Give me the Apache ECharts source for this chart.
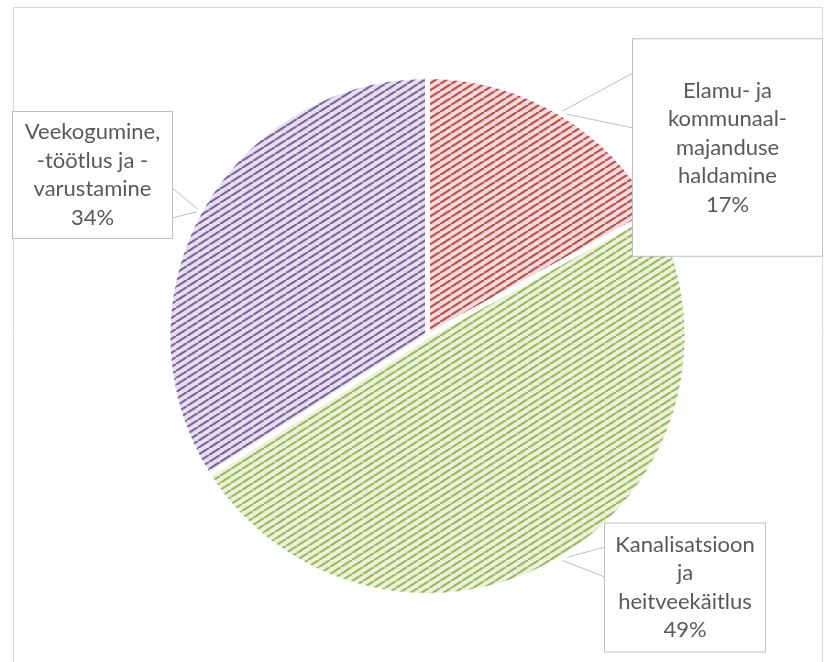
<!DOCTYPE html>
<html>
<head>
<meta charset="utf-8">
<script src="https://cdn.jsdelivr.net/npm/echarts@6/dist/echarts.min.js"></script>
<style>
html,body{margin:0;padding:0;background:#fff;}
#chart{width:824px;height:662px;}
</style>
</head>
<body>
<div id="chart"></div>
<script>
// ---- data ----
const categories = [
  "Elamu- ja\nkommunaal-\nmajanduse\nhaldamine",
  "Kanalisatsioon\nja\nheitveekäitlus",
  "Veekogumine,\n-töötlus ja -\nvarustamine"
];
const shares = [17, 49, 34];

// ---- styles ----
const stripeColors = ["#C0504D", "#9BBB59", "#8064A2"];
const bgColors = ["#F2DCDB", "#EBF1DE", "#E5E0EC"];
// callout boxes: center x, center y, width, vertical padding, notch points on box edge
const boxes = [
  {cx: 727.5, cy: 147.5, w: 189, pv: 37, notch: [[633, 73], [633, 128]]},
  {cx: 685, cy: 587.5, w: 160, pv: 7, notch: [[605, 547], [605, 577]]},
  {cx: 92.5, cy: 175, w: 159, pv: 6, notch: [[172, 188], [172, 218]]}
];

function makePattern(bg, fg) {
  const W = 11, H = 7;
  const c = document.createElement('canvas');
  c.width = W; c.height = H;
  const ctx = c.getContext('2d');
  ctx.fillStyle = bg;
  ctx.fillRect(0, 0, W, H);
  ctx.strokeStyle = fg;
  ctx.lineWidth = 2.2;
  for (let k = -1; k <= 1; k++) {
    ctx.beginPath();
    ctx.moveTo(k * W, H);
    ctx.lineTo(k * W + W, 0);
    ctx.stroke();
  }
  return {image: c, repeat: 'repeat'};
}

const chart = echarts.init(document.getElementById('chart'), null, {renderer: 'canvas'});

const data = categories.map((name, i) => ({
  name: name,
  value: shares[i],
  itemStyle: {color: makePattern(bgColors[i], stripeColors[i])},
  label: {width: boxes[i].w, padding: [boxes[i].pv, 0]}
}));

chart.setOption({
  animation: false,
  backgroundColor: '#ffffff',
  graphic: [{
    type: 'rect',
    shape: {x: 13.5, y: 7.5, width: 809, height: 700},
    style: {fill: 'none', stroke: '#D9D9D9', lineWidth: 1},
    silent: true
  }],
  series: [{
    type: 'pie',
    center: [427.5, 336],
    radius: [0, 259.5],
    startAngle: 90,
    clockwise: true,
    avoidLabelOverlap: false,
    itemStyle: {borderColor: '#ffffff', borderWidth: 5},
    label: {
      show: true,
      formatter: '{b}\n{d}%',
      fontFamily: 'Lato',
      fontSize: 22,
      lineHeight: 28.5,
      color: '#595959',
      align: 'center',
      backgroundColor: '#ffffff',
      borderColor: '#BFBFBF',
      borderWidth: 1
    },
    labelLine: {
      show: true,
      lineStyle: {color: '#BFBFBF', width: 1}
    },
    labelLayout: function (params) {
      const b = boxes[params.dataIndex];
      const tip = params.labelLinePoints ? params.labelLinePoints[0] : null;
      const out = {x: b.cx, y: b.cy, align: 'center', verticalAlign: 'middle'};
      if (tip) out.labelLinePoints = [b.notch[0], tip, b.notch[1]];
      return out;
    },
    data: data
  }]
});
</script>
</body>
</html>
